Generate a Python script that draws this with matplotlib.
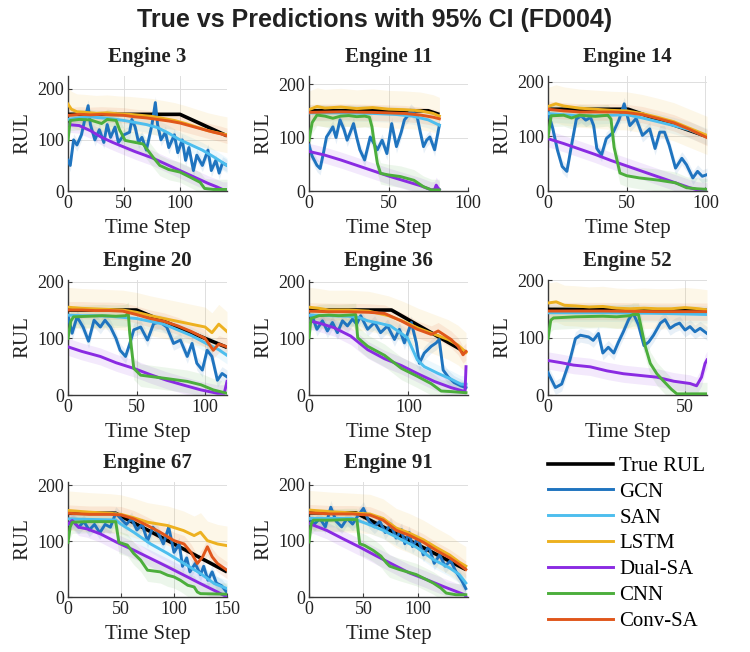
import numpy as np
import matplotlib
matplotlib.use("Agg")
import matplotlib.pyplot as plt
from matplotlib.lines import Line2D

# ---------------- data ----------------
MODELS = ["GCN", "SAN", "LSTM", "Dual-SA", "CNN", "Conv-SA"]
MODEL_COLORS = ["#1f74bf", "#4dbeee", "#edb120", "#8a2be2", "#4cae3c", "#e0561b"]
CI_HALF = [12, 15, 35, 15, 20, 15]          # 95% CI half width per model
ENGINES = [3, 11, 14, 20, 36, 52, 67, 91]

# Engine 3
E3_TRUE = [(0, 150), (100, 150), (142, 108)]
E3_GCN = [(0, 60), (2, 50), (5, 100), (8, 90), (12, 110), (15, 140), (18, 167), (20, 130), (24, 100), (28, 120),
          (32, 95), (35, 130), (38, 105), (42, 125), (45, 95), (50, 110), (55, 115), (57, 140), (60, 125), (63, 95),
          (66, 105), (70, 80), (75, 130), (78, 173), (80, 130), (83, 100), (87, 115), (90, 85), (95, 110), (98, 75),
          (102, 100), (105, 60), (108, 85), (112, 40), (115, 70), (120, 50), (125, 80), (128, 40), (132, 60),
          (135, 35), (138, 55), (142, 50)]
E3_SAN = [(0, 140), (10, 143), (20, 145), (30, 143), (40, 141), (50, 138), (60, 134), (70, 130), (80, 124),
          (90, 113), (100, 100), (110, 90), (120, 80), (130, 67), (142, 50)]
E3_LSTM = [(0, 170), (3, 160), (8, 155), (15, 154), (25, 152), (35, 153), (45, 151), (55, 150), (65, 148),
           (75, 146), (85, 142), (95, 138), (105, 132), (115, 125), (125, 118), (135, 113), (142, 110)]
E3_DUAL = [(0, 130), (10, 128), (20, 118), (30, 105), (40, 95), (50, 86), (60, 77), (75, 65), (90, 50), (100, 40),
           (112, 28), (125, 15), (133, 8), (138, 3), (142, 3)]
E3_CNN = [(0, 100), (2, 138), (10, 140), (20, 139), (30, 132), (35, 140), (43, 138), (46, 120), (51, 99),
          (60, 95), (67, 92), (76, 66), (82, 50), (90, 42), (100, 37), (110, 26), (118, 17), (122, 5), (130, 3),
          (142, 3)]
E3_CONV = [(0, 148), (10, 150), (20, 149), (30, 150), (40, 149), (50, 148), (60, 145), (70, 143), (80, 140),
           (90, 137), (100, 133), (110, 127), (120, 121), (130, 115), (136, 112), (142, 108)]

# Engine 11
E11_TRUE = [(0, 150), (75, 150), (82, 143)]
E11_GCN = [(0, 86), (2, 65), (5, 48), (7, 42), (9, 70), (11, 101), (13, 110), (15, 120), (17, 100), (19.5, 133),
           (22, 115), (24, 95), (26, 110), (28, 126), (30, 100), (32, 77), (35, 58), (38.5, 101), (41, 88),
           (43, 77), (46, 95), (49, 70), (52, 126), (55, 83), (58, 110), (60, 133), (62, 140), (64, 151), (66, 145),
           (68, 139), (70, 110), (72, 83), (74, 95), (76, 101), (79, 77), (82, 123)]
E11_SAN = [(0, 146), (20, 146), (40, 145), (55, 143), (65, 140), (75, 133), (82, 123)]
E11_LSTM = [(0, 152), (5, 158), (10, 155), (20, 157), (30, 154), (40, 156), (50, 153), (60, 152), (70, 150),
            (78, 145), (82, 140)]
E11_DUAL = [(0, 74), (10, 67), (20, 58), (30, 48), (40, 38), (50, 28), (60, 19), (70, 10), (77, 2), (79, 3),
            (80, 11), (81, 6), (82, 3)]
E11_CNN = [(0, 95), (2, 128), (5, 142), (10, 140), (15, 136), (20, 140), (25, 141), (30, 139), (35, 140),
           (38, 138), (39.6, 120), (41, 90), (43, 52), (45, 33), (50, 30), (57.5, 27), (66, 20), (72, 8), (77, 2),
           (82, 2)]
E11_CONV = [(0, 147), (20, 148), (40, 147), (60, 145), (70, 142), (78, 138), (82, 135)]

# Engine 14
E14_TRUE = [(0, 150), (51, 150), (101, 100)]
E14_GCN = [(0, 145), (3, 115), (6, 75), (9, 45), (12, 36), (15, 85), (18, 132), (21, 138), (24, 130), (27, 135),
           (29, 120), (31, 78), (34, 66), (37, 96), (41.5, 108), (45, 130), (48.4, 160), (52, 120), (56, 133),
           (60, 102), (64.6, 114), (68, 78), (71, 108), (74, 108), (77, 84), (81, 42), (85, 60), (88, 48),
           (92, 24), (95, 36), (98, 27), (101, 30)]
E14_SAN = [(0, 142), (10, 140), (20, 138), (30, 138), (40, 139), (50, 140), (60, 134), (70, 127), (80, 120),
           (90, 112), (101, 100)]
E14_LSTM = [(0, 155), (5, 160), (10, 156), (20, 152), (30, 150), (40, 148), (50, 147), (60, 142), (70, 135),
            (80, 127), (90, 115), (101, 102)]
E14_DUAL = [(0, 96), (10, 87), (20, 77), (30, 67), (40, 56), (50, 46), (60, 36), (70, 26), (80, 16), (90, 6),
            (95, 2), (101, 0)]
E14_CNN = [(0, 99), (2, 138), (10, 139), (15, 134), (20, 139), (30, 137), (38, 139), (40, 132), (42, 80),
           (45.7, 33), (50, 28), (58, 24), (70, 20), (81, 15), (88, 6), (95, 4), (101, 3)]
E14_CONV = [(0, 150), (10, 147), (20, 145), (30, 145), (40, 145), (50, 144), (60, 140), (70, 133), (80, 125),
            (90, 113), (101, 98)]

# Engine 20
E20_TRUE = [(0, 150), (50, 150), (116, 84)]
E20_GCN = [(0, 140), (3, 109), (6.6, 138), (11, 120), (15, 95), (19, 132), (23.6, 120), (27, 132), (31, 120),
           (35, 100), (38, 79), (42, 68), (45, 90), (48, 115), (53, 120), (58, 97), (62.5, 126), (67, 129),
           (72, 120), (77, 91), (82, 97), (87, 68), (90.5, 91), (94, 56), (98, 44), (101.5, 79), (105, 68),
           (109, 26), (112.4, 38), (116, 32)]
E20_SAN = [(0, 141), (10, 140), (20, 140), (30, 139), (40, 137), (50, 135), (60, 130), (70, 125), (80, 115),
           (90, 105), (100, 92), (110, 80), (116, 70)]
E20_LSTM = [(0, 155), (10, 153), (20, 152), (30, 151), (40, 150), (50, 146), (60, 140), (70, 135), (80, 130),
            (90, 125), (100, 120), (105, 110), (110, 125), (116, 112)]
E20_DUAL = [(0, 85), (10, 77), (23.6, 68), (35, 57), (48, 47), (60, 36), (72, 26), (85, 17), (97, 9), (105, 5),
            (109, 3), (114, 3), (116, 24)]
E20_CNN = [(0, 100), (2, 130), (4, 138), (15, 139), (25, 140), (35, 139), (42, 140), (44, 144), (45, 110),
           (48, 47), (53, 35), (72, 29), (87, 24), (97, 18), (106, 9), (111, 6), (116, 3)]
E20_CONV = [(0, 150), (10, 150), (20, 149), (30, 149), (40, 148), (50, 142), (60, 135), (70, 130), (80, 122),
            (90, 112), (100, 100), (106, 79), (110, 90), (116, 85)]

# Engine 36
E36_TRUE = [(0, 150), (83, 150), (158, 75)]
E36_GCN = [(0, 140), (3, 140), (8, 116), (13.5, 131), (18.5, 113), (23.6, 128), (28.6, 110), (33.7, 131),
           (38.7, 122), (43.8, 134), (48, 125), (52, 140), (59, 116), (66, 128), (72, 110), (79, 122), (86, 98),
           (91, 116), (96, 92), (103, 128), (108, 92), (111, 56), (116, 74), (123, 86), (128, 92), (131, 98),
           (135, 44), (140, 32), (146, 22), (153, 16), (158, 13)]
E36_SAN = [(0, 141), (20, 140), (40, 139), (50, 137), (59, 131), (70, 127), (82, 122), (99, 101), (109, 62),
           (116, 50), (130, 38), (143, 28), (153, 19), (158, 19)]
E36_LSTM = [(0, 155), (10, 153), (20, 150), (40, 150), (60, 148), (80, 140), (95, 130), (110, 118), (125, 108),
            (140, 98), (150, 88), (158, 75)]
E36_DUAL = [(0, 131), (10, 127), (25, 119), (42, 104), (59, 80), (76, 64), (93, 52), (109, 38), (126, 24),
            (143, 13), (155, 7), (157, 5), (158, 50)]
E36_CNN = [(0, 101), (2, 135), (10, 140), (20, 141), (30, 140), (40, 141), (47, 142), (49, 101), (59, 86),
           (76, 70), (93, 47), (109, 33), (123, 20), (133, 7), (143, 6), (158, 4)]
E36_CONV = [(0, 148), (20, 147), (40, 147), (60, 146), (76, 144), (92.6, 131), (109, 116), (123, 107),
            (130, 113), (143, 98), (150, 86), (155, 71), (158, 77)]

# Engine 52
E52_TRUE = [(0, 149), (58, 147)]
E52_GCN = [(0, 39), (2.7, 13), (5, 19), (8, 61), (10, 98), (11.8, 104), (14.8, 101), (16.5, 95), (18.4, 107),
           (20, 73), (22, 83), (24, 73), (25.7, 92), (27.5, 110), (29.4, 131), (31, 143), (33, 122), (35, 86),
           (36.7, 92), (38.5, 104), (41, 125), (42.7, 131), (44.5, 116), (46.4, 122), (48, 125), (50, 113),
           (51.8, 119), (53.6, 110), (55.5, 116), (58, 107)]
E52_SAN = [(0, 143), (20, 143), (40, 142), (58, 140)]
E52_LSTM = [(0, 160), (3, 162), (6, 156), (10, 155), (15, 153), (20, 154), (25, 151), (30, 150), (35, 151),
            (40, 150), (45, 150), (50, 152), (55, 150), (58, 148)]
E52_DUAL = [(0, 60), (5, 56), (9.3, 52), (15.4, 49), (21.5, 42), (27.5, 37), (33.6, 34), (39.7, 31), (45.8, 24),
            (51.8, 20), (54.2, 16), (56, 31), (57.3, 55), (58, 61)]
E52_CNN = [(0, 98), (1, 130), (2, 134), (10, 136), (20, 137), (25, 136), (30, 138), (31, 140), (33, 140),
           (35.4, 86), (37.3, 55), (39.7, 37), (42, 25), (45, 10), (47, 2), (58, 2)]
E52_CONV = [(0, 146), (20, 146), (40, 145), (58, 145)]

# Engine 67
E67_TRUE = [(0, 150), (45, 150), (150, 45)]
E67_GCN = [(0, 130), (5, 135), (10, 125), (15, 135), (20, 120), (25, 130), (30, 115), (35, 130), (40, 125),
           (45, 150), (50, 140), (55, 130), (60, 140), (65, 120), (70, 130), (75, 100), (80, 125), (85, 115),
           (90, 95), (95, 125), (100, 80), (105, 95), (108, 55), (112, 70), (115, 45), (120, 60), (125, 40),
           (128, 55), (132, 30), (136, 45), (140, 25), (145, 20), (150, 8)]
E67_SAN = [(0, 140), (20, 139), (45, 138), (49.5, 131), (62, 116), (78, 95), (94, 78), (109.5, 60), (125, 42),
           (138, 24), (150, 15)]
E67_LSTM = [(0, 155), (20, 152), (40, 150), (50, 148), (62, 142), (75, 134), (94, 128), (109, 119), (119, 110),
            (125, 116), (131.5, 101), (141, 95), (150, 92)]
E67_DUAL = [(0, 131), (4, 137), (10, 125), (18, 122), (30.6, 113), (46, 98), (62, 84), (78, 69), (94, 54),
            (109.5, 39), (125, 24), (141, 9), (147, 3), (150, 0)]
E67_CNN = [(0, 98), (2, 125), (4, 134), (20, 135), (35, 135), (45, 135), (48, 98), (56, 93), (62, 78),
           (68.5, 66), (75, 48), (87, 45), (94, 39), (100, 36), (106, 30), (113, 21), (119, 18), (122, 9),
           (125, 6), (150, 5)]
E67_CONV = [(0, 150), (20, 148), (40, 148), (50, 147), (62, 140), (75, 128), (87, 116), (100, 101), (109.5, 95),
            (116, 80), (122, 60), (127, 72), (131.5, 90), (136, 72), (141, 60), (150, 48)]

# Engine 91
E91_TRUE = [(0, 150), (43, 150), (144, 49)]
E91_GCN = [(0, 140), (5, 130), (10, 140), (15, 125), (20, 160), (25, 135), (30, 125), (35, 140), (40, 130),
           (45, 145), (50, 158), (55, 135), (60, 125), (65, 135), (70, 115), (75, 130), (80, 105), (85, 120),
           (88, 95), (92, 115), (95, 90), (100, 105), (105, 75), (110, 90), (115, 60), (120, 75), (125, 55),
           (130, 65), (135, 45), (140, 30), (144, 15)]
E91_SAN = [(0, 140), (20, 140), (40, 140), (52.6, 131), (68, 119), (83, 104), (98.5, 89), (114, 67), (129, 52),
           (138, 40), (144, 25)]
E91_LSTM = [(0, 155), (20, 152), (40, 150), (56, 148), (68, 140), (80, 123), (92, 114), (105, 102), (117, 88),
            (129, 75), (138, 62), (144, 55)]
E91_DUAL = [(0, 131), (16, 119), (31, 104), (46.5, 89), (62, 73), (77, 58), (92, 43), (108, 31), (123, 19),
            (135, 10), (143, 4), (144, 1)]
E91_CNN = [(0, 98), (2, 130), (4, 137), (20, 137), (35, 138), (44, 138), (46.5, 95), (51, 92), (59, 83),
           (66, 73), (71, 61), (74, 55), (83, 49), (98.5, 40), (114, 25), (121, 16), (126, 7), (135, 4), (144, 4)]
E91_CONV = [(0, 150), (20, 148), (40, 148), (56, 146), (68, 137), (80, 119), (92, 110), (104.6, 98), (117, 83),
            (129, 70), (138, 58), (144, 49)]

TRUE_SERIES = [E3_TRUE, E11_TRUE, E14_TRUE, E20_TRUE, E36_TRUE, E52_TRUE, E67_TRUE, E91_TRUE]
PRED_SERIES = [
    [E3_GCN, E3_SAN, E3_LSTM, E3_DUAL, E3_CNN, E3_CONV],
    [E11_GCN, E11_SAN, E11_LSTM, E11_DUAL, E11_CNN, E11_CONV],
    [E14_GCN, E14_SAN, E14_LSTM, E14_DUAL, E14_CNN, E14_CONV],
    [E20_GCN, E20_SAN, E20_LSTM, E20_DUAL, E20_CNN, E20_CONV],
    [E36_GCN, E36_SAN, E36_LSTM, E36_DUAL, E36_CNN, E36_CONV],
    [E52_GCN, E52_SAN, E52_LSTM, E52_DUAL, E52_CNN, E52_CONV],
    [E67_GCN, E67_SAN, E67_LSTM, E67_DUAL, E67_CNN, E67_CONV],
    [E91_GCN, E91_SAN, E91_LSTM, E91_DUAL, E91_CNN, E91_CONV],
]
X_MAX = [142, 100, 101, 116, 160, 58, 150, 146]
Y_MAX = [225, 215, 211, 203, 203, 200, 206, 205]
X_TICKS = [[0, 50, 100], [0, 50, 100], [0, 50, 100], [0, 50, 100], [0, 100], [0, 50], [0, 50, 100, 150],
           [0, 50, 100]]
Y_TICKS = [0, 100, 200]

# ---------------- figure ----------------
W, H = 750, 652
fig = plt.figure(figsize=(W / 100, H / 100), dpi=100)
SERIF = "Liberation Serif"
AX_COLOR = "#3a3a3a"

col_left = [68, 309, 548]
row_bottom = [191, 395, 597]
ax_w, ax_h = 159, 115

for i, eng in enumerate(ENGINES):
    r, c = divmod(i, 3)
    ax = fig.add_axes([col_left[c] / W, 1 - row_bottom[r] / H, ax_w / W, ax_h / H])
    # CI bands
    for m, series in enumerate(PRED_SERIES[i]):
        t = np.array([p[0] for p in series])
        v = np.array([p[1] for p in series])
        ax.fill_between(t, v - CI_HALF[m], v + CI_HALF[m], color=MODEL_COLORS[m], alpha=0.10, lw=0, zorder=1)
    tt = [p[0] for p in TRUE_SERIES[i]]
    tv = [p[1] for p in TRUE_SERIES[i]]
    ax.plot(tt, tv, color="black", lw=2.6, zorder=3, solid_capstyle="butt")
    for m, series in enumerate(PRED_SERIES[i]):
        t = [p[0] for p in series]
        v = [p[1] for p in series]
        ax.plot(t, v, color=MODEL_COLORS[m], lw=2.1, zorder=4 + m)
    ax.set_xlim(0, X_MAX[i])
    ax.set_ylim(0, Y_MAX[i])
    ax.set_xticks(X_TICKS[i])
    ax.set_yticks(Y_TICKS)
    ax.grid(True, color="#dedede", lw=0.7, zorder=0)
    ax.set_axisbelow(True)
    for s in ["top", "right"]:
        ax.spines[s].set_visible(False)
    for s in ["left", "bottom"]:
        ax.spines[s].set_color(AX_COLOR)
        ax.spines[s].set_linewidth(1.0)
    ax.tick_params(direction="in", length=3, width=0.8, color=AX_COLOR, labelcolor="#222222", pad=3,
                   labelsize=13)
    for lab in ax.get_xticklabels() + ax.get_yticklabels():
        lab.set_fontfamily(SERIF)
    ax.set_xlabel("Time Step", fontsize=15, family=SERIF, color="#222222", labelpad=5)
    ax.set_ylabel("RUL", fontsize=15, family=SERIF, color="#222222", labelpad=3)
    ax.set_title(f"Engine {eng}", fontsize=15, family=SERIF, fontweight="bold", color="#222222", pad=10)

fig.suptitle("True vs Predictions with 95% CI (FD004)", x=0.5, y=1 - 20 / H, va="center",
             fontsize=18, fontweight="bold", family="Liberation Sans", color="#222222")

handles = [Line2D([], [], color="black", lw=2.6)] + [Line2D([], [], color=col, lw=2.1) for col in MODEL_COLORS]
labels = ["True RUL"] + MODELS
fig.legend(handles, labels, loc="upper left", bbox_to_anchor=(540 / W, 1 - 448 / H), frameon=False,
           prop={"family": SERIF, "size": 15}, handlelength=3.1, handletextpad=0.3, labelspacing=0.3,
           borderaxespad=0)

fig.savefig("out.png", dpi=100)
